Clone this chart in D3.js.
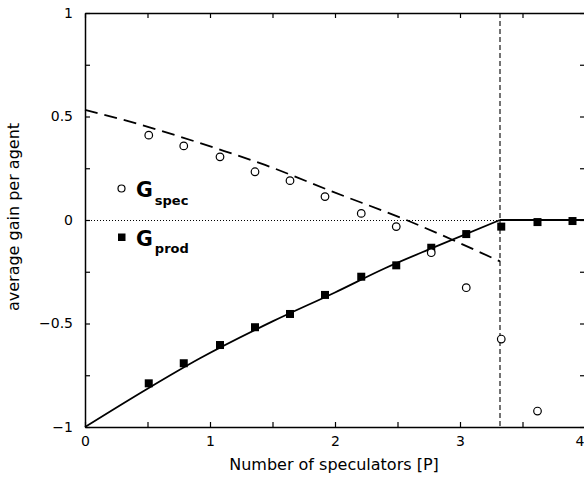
<!DOCTYPE html>
<html>
<head>
<meta charset="utf-8">
<script src="https://cdn.jsdelivr.net/npm/d3@7"></script>
<style>
  html, body { margin: 0; padding: 0; background: #fff; }
  svg { display: block; }
  text { font-family: "DejaVu Sans", sans-serif; fill: #000; }
</style>
</head>
<body>
<svg id="chart" width="584" height="478"></svg>
<script>
// ---- data ----
const P = [0.51, 0.79, 1.08, 1.36, 1.64, 1.92, 2.21, 2.49, 2.77, 3.05, 3.33, 3.62, 3.90];
const gSpec = [0.41, 0.358, 0.305, 0.233, 0.19, 0.113, 0.032, -0.032, -0.158, -0.327, -0.575, -0.923, null];
const gProd = [-0.789, -0.692, -0.604, -0.518, -0.454, -0.362, -0.274, -0.219, -0.134, -0.068, -0.032, -0.01, -0.005];

const specTheoryP = [0, 0.36, 0.72, 1.08, 1.44, 1.98, 2.57, 3.32];
const specTheory  = [0.532, 0.475, 0.41, 0.34, 0.266, 0.137, 0.0, -0.20];
const prodTheoryP = [0, 0.5, 0.92, 1.5, 2.0, 2.4, 2.8, 3.32];
const prodTheory  = [-1, -0.815, -0.668, -0.49, -0.35, -0.233, -0.13, 0];
const prodFlatP   = [3.32, 4];
const prodFlat    = [0, 0];
const critP = 3.32;

const xTicks = [0, 0.5, 1, 1.5, 2, 2.5, 3, 3.5, 4];
const yTicks = [-1, -0.75, -0.5, -0.25, 0, 0.25, 0.5, 0.75, 1];
const xLabel = "Number of speculators [P]";
const yLabel = "average gain per agent";

// ---- drawing ----
const svg = d3.select("#chart");
const x = d3.scaleLinear().domain([0, 4]).range([85, 585]);
const y = d3.scaleLinear().domain([-1, 1]).range([427, 13]);

const fmtY = d => (Math.abs(d * 2 - Math.round(d * 2)) < 1e-9) ? d3.format("")(d) : "";
const fmtX = d => Number.isInteger(d) ? String(d) : "";

function styleAxis(g) {
  g.selectAll("path.domain").attr("stroke", "#000").attr("stroke-width", 1.5);
  g.selectAll(".tick line").attr("stroke", "#000").attr("stroke-width", 1.2);
  g.selectAll(".tick text").style("font-family", "DejaVu Sans, sans-serif").style("font-size", "14px").attr("fill", "#000");
}

const xAxisG = svg.append("g").attr("transform", `translate(0,${y(-1)})`)
  .call(d3.axisBottom(x).tickValues(xTicks).tickFormat(fmtX).tickSizeInner(-5).tickSizeOuter(0).tickPadding(9))
  .call(styleAxis);
// keep the last label ("4") inside the picture at the right edge
xAxisG.selectAll(".tick").filter(d => d === 4).select("text")
  .attr("text-anchor", "end").attr("x", -1);

svg.append("g").attr("transform", `translate(0,${y(1)})`)
  .call(d3.axisTop(x).tickValues(xTicks).tickFormat("").tickSizeInner(-5).tickSizeOuter(0))
  .call(styleAxis);
svg.append("g").attr("transform", `translate(${x(0)},0)`)
  .call(d3.axisLeft(y).tickValues(yTicks).tickFormat(fmtY).tickSizeInner(-5).tickSizeOuter(0).tickPadding(12))
  .call(styleAxis);
svg.append("g").attr("transform", `translate(${x(4)},0)`)
  .call(d3.axisRight(y).tickValues(yTicks).tickFormat("").tickSizeInner(-5).tickSizeOuter(0))
  .call(styleAxis);

// zero dotted line
svg.append("line")
  .attr("x1", x(0)).attr("x2", x(critP)).attr("y1", y(0) + 0.5).attr("y2", y(0) + 0.5)
  .attr("stroke", "#000").attr("stroke-width", 1).attr("stroke-dasharray", "1,2");

// vertical dash line at critical P
svg.append("line")
  .attr("x1", x(critP)).attr("x2", x(critP)).attr("y1", y(1)).attr("y2", y(-1))
  .attr("stroke", "#000").attr("stroke-width", 1.1).attr("stroke-dasharray", "5,3");

const line = d3.line().x(d => x(d[0])).y(d => y(d[1]));

svg.append("path")
  .datum(specTheoryP.map((p, i) => [p, specTheory[i]]))
  .attr("d", line.curve(d3.curveMonotoneX))
  .attr("fill", "none").attr("stroke", "#000").attr("stroke-width", 1.8)
  .attr("stroke-dasharray", "13,7");

svg.append("path")
  .datum(prodTheoryP.map((p, i) => [p, prodTheory[i]]))
  .attr("d", line.curve(d3.curveMonotoneX))
  .attr("fill", "none").attr("stroke", "#000").attr("stroke-width", 1.8);

svg.append("path")
  .datum(prodFlatP.map((p, i) => [p, prodFlat[i]]))
  .attr("d", line.curve(d3.curveLinear))
  .attr("fill", "none").attr("stroke", "#000").attr("stroke-width", 1.8);

// markers
const s = 8;
svg.append("g").selectAll("rect")
  .data(P.map((p, i) => [p, gProd[i]]).filter(d => d[1] !== null))
  .join("rect")
  .attr("x", d => x(d[0]) - s / 2).attr("y", d => y(d[1]) - s / 2)
  .attr("width", s).attr("height", s).attr("fill", "#000");

svg.append("g").selectAll("circle")
  .data(P.map((p, i) => [p, gSpec[i]]).filter(d => d[1] !== null))
  .join("circle")
  .attr("cx", d => x(d[0])).attr("cy", d => y(d[1])).attr("r", 3.8)
  .attr("fill", "#fff").attr("stroke", "#000").attr("stroke-width", 1.2);

// legend
svg.append("circle").attr("cx", 121.5).attr("cy", 188.5).attr("r", 3.5)
  .attr("fill", "#fff").attr("stroke", "#000").attr("stroke-width", 1.2);
svg.append("rect").attr("x", 118).attr("y", 233.5).attr("width", 7.5).attr("height", 7.5).attr("fill", "#000");

const leg1 = svg.append("text").attr("x", 136).attr("y", 197).style("font-weight", "bold");
leg1.append("tspan").style("font-size", "20.5px").text("G");
leg1.append("tspan").style("font-size", "13px").attr("dx", 2).attr("dy", 7.5).text("spec");
const leg2 = svg.append("text").attr("x", 136).attr("y", 246).style("font-weight", "bold");
leg2.append("tspan").style("font-size", "20.5px").text("G");
leg2.append("tspan").style("font-size", "13px").attr("dx", 2).attr("dy", 7).text("prod");

// axis titles
svg.append("text").attr("x", (x(0) + x(4)) / 2 - 1).attr("y", 470)
  .attr("text-anchor", "middle").style("font-size", "16px").text(xLabel);
svg.append("text").attr("transform", "translate(19,217) rotate(-90)")
  .attr("text-anchor", "middle").style("font-size", "16px").text(yLabel);
</script>
</body>
</html>
